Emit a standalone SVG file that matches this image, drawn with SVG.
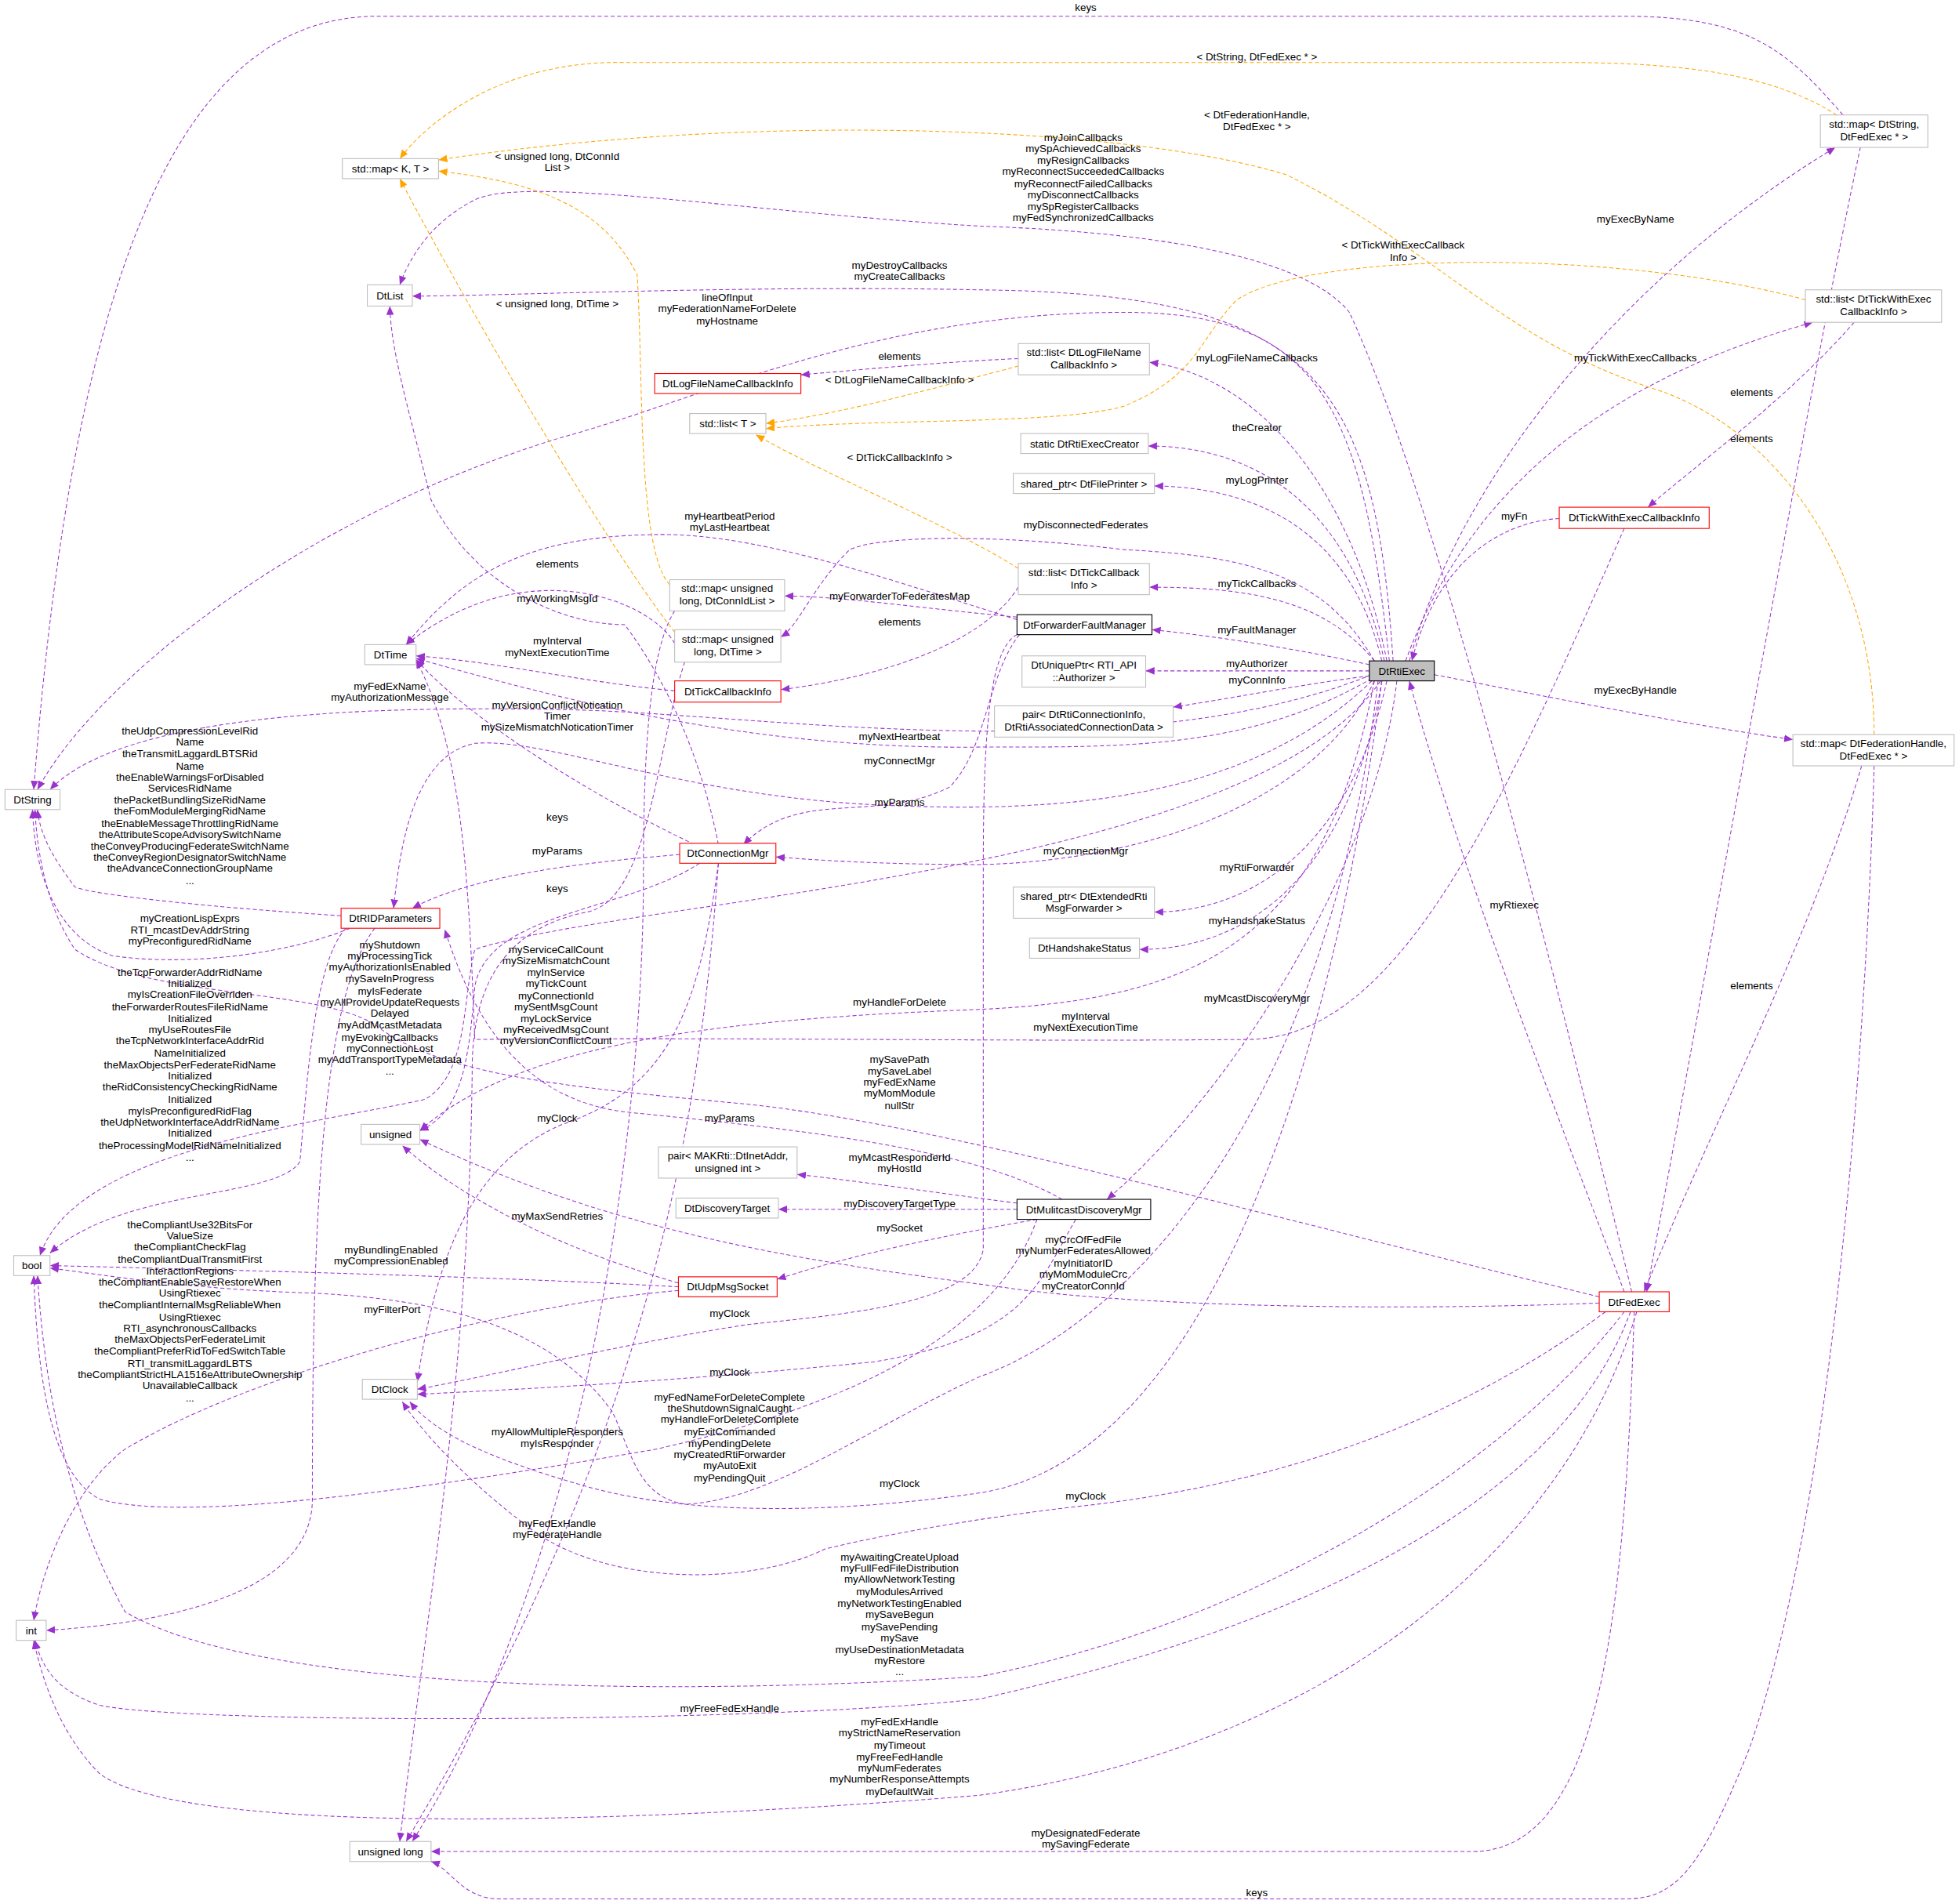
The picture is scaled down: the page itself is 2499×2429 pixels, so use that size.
<svg xmlns="http://www.w3.org/2000/svg" width="2499" height="2429" viewBox="0 0 2499 2429">
<defs>
<style>
text{font-family:"Liberation Sans",Arial,sans-serif;font-size:8.4px;fill:#000;text-anchor:middle}
.n rect{fill:#fff;stroke:#bfbfbf;stroke-width:0.7}
.r rect{stroke:#ff0000}
.k rect{stroke:#000}
.g rect{fill:#bfbfbf;stroke:#000}
.e{fill:none;stroke:#9a32cd;stroke-width:0.65;stroke-dasharray:3.2,2;marker-end:url(#ap)}
.o{fill:none;stroke:#ffa500;stroke-width:0.65;stroke-dasharray:3.2,2;marker-end:url(#ao)}
</style>
<marker id="ap" markerUnits="userSpaceOnUse" markerWidth="9" markerHeight="8" refX="7" refY="3" orient="auto"><path d="M0,0 L7,3 L0,6z" fill="#9a32cd"/></marker>
<marker id="ao" markerUnits="userSpaceOnUse" markerWidth="9" markerHeight="8" refX="7" refY="3" orient="auto"><path d="M0,0 L7,3 L0,6z" fill="#ffa500"/></marker>
</defs>
<rect width="2499" height="2429" fill="#fff"/>
<g transform="scale(1.5938)">
<g id="connectors">
<path class="e" d="M1128,529 C1170,380 1300,220 1469,118"/>
<path class="e" d="M1125,529 C1180,380 1300,300 1451,258"/>
<path class="e" d="M1248,415 C1200,418 1150,450 1130,529"/>
<path class="e" d="M1110,529 C1080,380 1000,300 920,290"/>
<path class="e" d="M1108,529 C1080,400 1000,357 919,357"/>
<path class="e" d="M1106,529 C1080,420 1000,390 924,389"/>
<path class="e" d="M1100,529 C1060,480 1000,470 920,470"/>
<path class="e" d="M1096,532 C1040,520 980,510 922,504"/>
<path class="e" d="M1096,537 L917,537"/>
<path class="e" d="M1096,541 C1040,548 980,560 939,566"/>
<path class="e" d="M1148,540 C1250,560 1350,580 1435,592"/>
<path class="e" d="M1110,545 C1080,680 1000,730 924,730"/>
<path class="e" d="M1106,545 C1080,700 1000,760 912,760"/>
<path class="e" d="M1100,545 C1050,650 900,690 784,692 C700,692 650,688 621,686"/>
<path class="e" d="M1118,545 C1100,700 980,880 886,960"/>
<path class="e" d="M1300,1034 C1250,900 1170,700 1128,545"/>
<path class="e" d="M1115,529 C1100,300 1050,235 784,232 C600,228 400,237 330,237"/>
<path class="e" d="M1306,1034 C1250,800 1150,400 1080,250 C1040,200 900,185 784,181 C600,170 420,140 380,160 C350,175 330,200 320,228"/>
<path class="e" d="M1112,529 C1090,330 1060,250 900,250 C700,250 560,320 450,350 C250,410 80,540 30,632"/>
<path class="e" d="M1475,92 C1430,40 1400,13 1300,13 L300,13 C150,15 60,200 27,632"/>
<path class="o" d="M1470,92 C1420,60 1350,50 1250,50 L500,50 C400,48 340,100 320,127"/>
<path class="o" d="M1500,588 C1500,450 1420,340 1320,310 C1200,270 1150,200 1030,140 C900,100 600,90 351,128"/>
<path class="o" d="M536,468 C510,440 515,300 510,220 C480,160 420,145 351,137"/>
<path class="o" d="M540,506 C480,430 360,220 320,143"/>
<path class="o" d="M815,293 C750,310 680,330 613,339"/>
<path class="o" d="M1445,240 C1300,200 1050,200 990,240 C960,270 960,300 900,325 C850,340 700,335 613,343"/>
<path class="o" d="M815,455 C760,420 660,380 605,348"/>
<path class="e" d="M815,287 C750,290 700,295 641,300"/>
<path class="e" d="M815,470 C790,510 720,540 625,552"/>
<path class="e" d="M1484,258 C1430,320 1360,370 1319,406"/>
<path class="e" d="M1489,118 C1450,300 1380,700 1318,1034"/>
<path class="e" d="M1490,613 C1450,750 1370,900 1316,1034"/>
<path class="e" d="M1500,613 C1495,800 1470,1200 1400,1400 C1360,1500 1340,1520 1300,1520 L400,1520 C370,1520 360,1495 345,1490"/>
<path class="e" d="M1308,1050 C1300,1300 1280,1480 1180,1482 L345,1482"/>
<path class="e" d="M575,691 C560,900 520,1150 325,1474"/>
<path class="e" d="M814,496 C700,460 600,425 520,428 C420,430 370,460 325,516"/>
<path class="e" d="M540,515 C520,480 420,440 325,516"/>
<path class="e" d="M540,553 C460,545 400,530 333,525"/>
<path class="e" d="M556,676 C480,640 380,580 333,528"/>
<path class="e" d="M1098,543 C1000,600 900,598 784,598 C600,600 450,560 333,527"/>
<path class="e" d="M1098,540 C900,620 600,570 450,568 C300,565 100,570 40,632"/>
<path class="e" d="M544,684 C470,690 380,700 330,727"/>
<path class="e" d="M1098,545 C1000,640 850,650 720,645 C550,640 440,590 380,595 C330,605 320,680 315,727"/>
<path class="e" d="M850,960 C780,920 650,905 500,890 C420,880 380,820 356,744"/>
<path class="e" d="M816,508 C790,540 790,600 760,630 C700,660 640,630 595,676"/>
<path class="e" d="M273,733 C150,725 70,715 60,710 C45,690 32,670 30,648"/>
<path class="e" d="M280,743 C240,760 160,775 90,765 C45,750 28,700 26,648"/>
<path class="e" d="M277,743 C250,770 245,880 240,930 C220,960 100,950 40,1003"/>
<path class="e" d="M300,743 C255,800 250,1000 250,1200 C250,1280 120,1300 37,1305"/>
<path class="e" d="M1105,545 C1000,700 500,720 380,760 C370,800 375,860 340,880 C250,900 60,920 32,1005"/>
<path class="e" d="M560,691 C500,730 390,730 380,790 C375,850 370,890 336,905"/>
<path class="e" d="M540,489 C520,520 515,600 515,700 C515,900 470,1250 330,1474"/>
<path class="e" d="M548,530 C525,600 520,720 470,730 C420,740 380,770 378,850 C376,1100 340,1300 320,1474"/>
<path class="e" d="M543,1027 C450,1000 370,960 322,917"/>
<path class="e" d="M575,691 C560,800 540,870 450,900 C380,930 350,1000 334,1106"/>
<path class="e" d="M814,508 C790,520 787,600 787,700 L787,1000 C780,1040 700,1050 600,1060 C500,1075 400,1100 334,1112"/>
<path class="e" d="M861,976 C830,1030 820,1070 700,1090 C550,1105 420,1112 334,1116"/>
<path class="e" d="M1285,1050 C1150,1150 1000,1190 870,1205 C780,1215 700,1230 660,1240 C600,1270 480,1270 420,1220 C380,1190 340,1150 322,1122"/>
<path class="e" d="M1106,545 C1060,900 950,1170 784,1195 C680,1210 560,1215 470,1190 C400,1170 350,1150 328,1122"/>
<path class="e" d="M1103,545 C1060,900 900,1060 784,1102 C700,1140 620,1200 550,1204 C510,1200 505,1160 490,1130 C440,1060 350,1040 250,1035 C150,1032 80,1020 40,1015"/>
<path class="e" d="M830,976 C800,1060 700,1120 525,1160 C350,1190 150,1220 80,1200 C40,1180 30,1100 27,1021"/>
<path class="e" d="M543,1030 C400,1022 200,1017 40,1013"/>
<path class="e" d="M830,976 C750,990 680,1005 622,1024"/>
<path class="e" d="M814,963 C750,955 700,947 638,940"/>
<path class="e" d="M814,968 L623,968"/>
<path class="e" d="M1280,1038 C1000,970 750,900 600,884 C450,870 350,860 300,820 C250,790 120,800 60,760 C40,730 30,690 28,648"/>
<path class="e" d="M1280,1043 C1100,1050 900,1045 800,1030 C650,1010 500,990 336,912"/>
<path class="e" d="M1100,545 C1060,760 950,800 784,808 C600,815 420,830 336,905"/>
<path class="e" d="M1300,423 C1200,650 1120,830 1000,832 C800,834 600,830 380,832 C375,700 370,600 333,528"/>
<path class="e" d="M1300,1050 C1200,1180 1000,1300 784,1342 C500,1360 200,1350 100,1290 C50,1200 35,1100 30,1021"/>
<path class="e" d="M1305,1050 C1250,1200 1050,1300 784,1360 C600,1380 150,1380 80,1365 C50,1355 35,1340 28,1313"/>
<path class="e" d="M1310,1050 C1250,1250 1050,1400 784,1437 C500,1460 150,1470 80,1420 C50,1390 35,1350 27,1313"/>
<path class="e" d="M543,1033 C400,1045 200,1100 100,1160 C60,1190 35,1250 27,1297"/>
<path class="e" d="M814,494 C720,485 680,478 628,477"/>
<path class="e" d="M1100,529 C1060,460 1000,445 900,440 C784,426 700,430 680,440 C650,470 640,500 625,510"/>
<path class="e" d="M575,676 C560,600 530,540 500,500 C450,500 380,470 345,400 C325,320 313,280 312,245"/>
</g>
<g id="labels">
<text x="869" y="9">keys</text>
<text x="1006" y="48">&lt; DtString, DtFedExec * &gt;</text>
<text x="1006" y="95">&lt; DtFederationHandle,</text><text x="1006" y="104">DtFedExec * &gt;</text>
<text x="867" y="113">myJoinCallbacks</text><text x="867" y="122">mySpAchievedCallbacks</text><text x="867" y="131">myResignCallbacks</text><text x="867" y="140">myReconnectSucceededCallbacks</text><text x="867" y="150">myReconnectFailedCallbacks</text><text x="867" y="159">myDisconnectCallbacks</text><text x="867" y="168">mySpRegisterCallbacks</text><text x="867" y="177">myFedSynchronizedCallbacks</text>
<text x="446" y="128">&lt; unsigned long, DtConnId</text><text x="446" y="137">List &gt;</text>
<text x="1309" y="178">myExecByName</text>
<text x="1123" y="199">&lt; DtTickWithExecCallback</text><text x="1123" y="209">Info &gt;</text>
<text x="720" y="215">myDestroyCallbacks</text><text x="720" y="224">myCreateCallbacks</text>
<text x="446" y="246">&lt; unsigned long, DtTime &gt;</text>
<text x="582" y="241">lineOfInput</text><text x="582" y="250">myFederationNameForDelete</text><text x="582" y="260">myHostname</text>
<text x="720" y="288">elements</text>
<text x="1006" y="289">myLogFileNameCallbacks</text>
<text x="1309" y="289">myTickWithExecCallbacks</text>
<text x="720" y="307">&lt; DtLogFileNameCallbackInfo &gt;</text>
<text x="1402" y="317">elements</text>
<text x="1006" y="345">theCreator</text>
<text x="1402" y="354">elements</text>
<text x="720" y="369">&lt; DtTickCallbackInfo &gt;</text>
<text x="1006" y="387">myLogPrinter</text>
<text x="1212" y="416">myFn</text>
<text x="584" y="416">myHeartbeatPeriod</text><text x="584" y="425">myLastHeartbeat</text>
<text x="869" y="423">myDisconnectedFederates</text>
<text x="446" y="454">elements</text>
<text x="1006" y="470">myTickCallbacks</text>
<text x="446" y="482">myWorkingMsgId</text>
<text x="720" y="480">myForwarderToFederatesMap</text>
<text x="720" y="501">elements</text>
<text x="1006" y="507">myFaultManager</text>
<text x="446" y="516">myInterval</text><text x="446" y="525">myNextExecutionTime</text>
<text x="1006" y="534">myAuthorizer</text>
<text x="1006" y="547">myConnInfo</text>
<text x="312" y="552">myFedExName</text><text x="312" y="561">myAuthorizationMessage</text>
<text x="1309" y="555">myExecByHandle</text>
<text x="446" y="567">myVersionConflictNotication</text><text x="446" y="576">Timer</text><text x="446" y="585">mySizeMismatchNoticationTimer</text>
<text x="720" y="592">myNextHeartbeat</text>
<text x="152" y="588">theUdpCompressionLevelRid</text><text x="152" y="597">Name</text><text x="152" y="606">theTransmitLaggardLBTSRid</text><text x="152" y="616">Name</text><text x="152" y="625">theEnableWarningsForDisabled</text><text x="152" y="634">ServicesRidName</text><text x="152" y="643">thePacketBundlingSizeRidName</text><text x="152" y="652">theFomModuleMergingRidName</text><text x="152" y="662">theEnableMessageThrottlingRidName</text><text x="152" y="671">theAttributeScopeAdvisorySwitchName</text><text x="152" y="680">theConveyProducingFederateSwitchName</text><text x="152" y="689">theConveyRegionDesignatorSwitchName</text><text x="152" y="698">theAdvanceConnectionGroupName</text><text x="152" y="708">...</text>
<text x="720" y="612">myConnectMgr</text>
<text x="720" y="645">myParams</text>
<text x="446" y="657">keys</text>
<text x="446" y="684">myParams</text>
<text x="869" y="684">myConnectionMgr</text>
<text x="1006" y="697">myRtiForwarder</text>
<text x="446" y="714">keys</text>
<text x="1212" y="727">myRtiexec</text>
<text x="152" y="738">myCreationLispExprs</text><text x="152" y="747">RTI_mcastDevAddrString</text><text x="152" y="756">myPreconfiguredRidName</text>
<text x="1006" y="740">myHandshakeStatus</text>
<text x="312" y="759">myShutdown</text><text x="312" y="768">myProcessingTick</text><text x="312" y="777">myAuthorizationIsEnabled</text><text x="312" y="786">mySaveInProgress</text><text x="312" y="796">myIsFederate</text><text x="312" y="805">myAllProvideUpdateRequests</text><text x="312" y="814">Delayed</text><text x="312" y="823">myAddMcastMetadata</text><text x="312" y="833">myEvokingCallbacks</text><text x="312" y="842">myConnectionLost</text><text x="312" y="851">myAddTransportTypeMetadata</text><text x="312" y="860">...</text>
<text x="445" y="763">myServiceCallCount</text><text x="445" y="772">mySizeMismatchCount</text><text x="445" y="781">myInService</text><text x="445" y="790">myTickCount</text><text x="445" y="800">myConnectionId</text><text x="445" y="809">mySentMsgCount</text><text x="445" y="818">myLockService</text><text x="445" y="827">myReceivedMsgCount</text><text x="445" y="836">myVersionConflictCount</text>
<text x="152" y="781">theTcpForwarderAddrRidName</text><text x="152" y="790">Initialized</text><text x="152" y="799">myIsCreationFileOverriden</text><text x="152" y="809">theForwarderRoutesFileRidName</text><text x="152" y="818">Initialized</text><text x="152" y="827">myUseRoutesFile</text><text x="152" y="836">theTcpNetworkInterfaceAddrRid</text><text x="152" y="846">NameInitialized</text><text x="152" y="855">theMaxObjectsPerFederateRidName</text><text x="152" y="864">Initialized</text><text x="152" y="873">theRidConsistencyCheckingRidName</text><text x="152" y="883">Initialized</text><text x="152" y="892">myIsPreconfiguredRidFlag</text><text x="152" y="901">theUdpNetworkInterfaceAddrRidName</text><text x="152" y="910">Initialized</text><text x="152" y="920">theProcessingModelRidNameInitialized</text><text x="152" y="929">...</text>
<text x="720" y="805">myHandleForDelete</text>
<text x="869" y="816">myInterval</text><text x="869" y="825">myNextExecutionTime</text>
<text x="1006" y="802">myMcastDiscoveryMgr</text>
<text x="720" y="851">mySavePath</text><text x="720" y="860">mySaveLabel</text><text x="720" y="869">myFedExName</text><text x="720" y="878">myMomModule</text><text x="720" y="888">nullStr</text>
<text x="446" y="898">myClock</text>
<text x="584" y="898">myParams</text>
<text x="720" y="929">myMcastResponderId</text><text x="720" y="938">myHostId</text>
<text x="720" y="966">myDiscoveryTargetType</text>
<text x="446" y="976">myMaxSendRetries</text>
<text x="720" y="986">mySocket</text>
<text x="152" y="983">theCompliantUse32BitsFor</text><text x="152" y="992">ValueSize</text><text x="152" y="1001">theCompliantCheckFlag</text><text x="152" y="1011">theCompliantDualTransmitFirst</text><text x="152" y="1020">InteractionRegions</text><text x="152" y="1029">theCompliantEnableSaveRestoreWhen</text><text x="152" y="1038">UsingRtiexec</text><text x="152" y="1047">theCompliantInternalMsgReliableWhen</text><text x="152" y="1057">UsingRtiexec</text><text x="152" y="1066">RTI_asynchronousCallbacks</text><text x="152" y="1075">theMaxObjectsPerFederateLimit</text><text x="152" y="1084">theCompliantPreferRidToFedSwitchTable</text><text x="152" y="1094">RTI_transmitLaggardLBTS</text><text x="152" y="1103">theCompliantStrictHLA1516eAttributeOwnership</text><text x="152" y="1112">UnavailableCallback</text><text x="152" y="1122">...</text>
<text x="313" y="1003">myBundlingEnabled</text><text x="313" y="1012">myCompressionEnabled</text>
<text x="867" y="995">myCrcOfFedFile</text><text x="867" y="1004">myNumberFederatesAllowed</text><text x="867" y="1014">myInitiatorID</text><text x="867" y="1023">myMomModuleCrc</text><text x="867" y="1032">myCreatorConnId</text>
<text x="314" y="1051">myFilterPort</text>
<text x="584" y="1054">myClock</text>
<text x="584" y="1101">myClock</text>
<text x="584" y="1121">myFedNameForDeleteComplete</text><text x="584" y="1130">theShutdownSignalCaught</text><text x="584" y="1139">myHandleForDeleteComplete</text><text x="584" y="1149">myExitCommanded</text><text x="584" y="1158">myPendingDelete</text><text x="584" y="1167">myCreatedRtiForwarder</text><text x="584" y="1176">myAutoExit</text><text x="584" y="1186">myPendingQuit</text>
<text x="446" y="1149">myAllowMultipleResponders</text><text x="446" y="1158">myIsResponder</text>
<text x="720" y="1190">myClock</text>
<text x="869" y="1200">myClock</text>
<text x="446" y="1222">myFedExHandle</text><text x="446" y="1231">myFederateHandle</text>
<text x="720" y="1249">myAwaitingCreateUpload</text><text x="720" y="1258">myFullFedFileDistribution</text><text x="720" y="1267">myAllowNetworkTesting</text><text x="720" y="1277">myModulesArrived</text><text x="720" y="1286">myNetworkTestingEnabled</text><text x="720" y="1295">mySaveBegun</text><text x="720" y="1305">mySavePending</text><text x="720" y="1314">mySave</text><text x="720" y="1323">myUseDestinationMetadata</text><text x="720" y="1332">myRestore</text><text x="720" y="1341">...</text>
<text x="584" y="1370">myFreeFedExHandle</text>
<text x="720" y="1381">myFedExHandle</text><text x="720" y="1390">myStrictNameReservation</text><text x="720" y="1400">myTimeout</text><text x="720" y="1409">myFreeFedHandle</text><text x="720" y="1418">myNumFederates</text><text x="720" y="1427">myNumberResponseAttempts</text><text x="720" y="1437">myDefaultWait</text>
<text x="1402" y="792">elements</text>
<text x="869" y="1470">myDesignatedFederate</text><text x="869" y="1479">mySavingFederate</text>
<text x="1006" y="1518">keys</text>
</g>
<g id="mapKT" class="n"><rect x="274" y="127" width="77" height="16"/><text x="312.5" y="138">std::map&lt; K, T &gt;</text></g>
<g id="DtList" class="n"><rect x="294" y="228" width="36" height="17"/><text x="312" y="239.5">DtList</text></g>
<g id="DtLogFileNameCallbackInfo" class="n r"><rect x="524" y="299" width="117" height="16"/><text x="582.5" y="310">DtLogFileNameCallbackInfo</text></g>
<g id="listT" class="n"><rect x="552" y="331" width="61" height="16"/><text x="582.5" y="342">std::list&lt; T &gt;</text></g>
<g id="mapULConn" class="n"><rect x="536" y="464" width="92" height="25"/><text x="582" y="474">std::map&lt; unsigned</text><text x="582" y="484">long, DtConnIdList &gt;</text></g>
<g id="mapULTime" class="n"><rect x="540" y="504" width="85" height="26"/><text x="582.5" y="514.5">std::map&lt; unsigned</text><text x="582.5" y="524.5">long, DtTime &gt;</text></g>
<g id="DtTime" class="n"><rect x="292" y="516" width="41" height="16"/><text x="312.5" y="527">DtTime</text></g>
<g id="DtTickCallbackInfo" class="n r"><rect x="540" y="545" width="85" height="17"/><text x="582.5" y="556.5">DtTickCallbackInfo</text></g>
<g id="DtString" class="n"><rect x="4" y="632" width="44" height="16"/><text x="26" y="643">DtString</text></g>
<g id="DtConnectionMgr" class="n r"><rect x="544" y="675" width="77" height="16"/><text x="582.5" y="686">DtConnectionMgr</text></g>
<g id="DtRIDParameters" class="n r"><rect x="273" y="727" width="79" height="16"/><text x="312.5" y="738">DtRIDParameters</text></g>
<g id="mapStrFed" class="n"><rect x="1457" y="92" width="86" height="26"/><text x="1500" y="102.5">std::map&lt; DtString,</text><text x="1500" y="112.5">DtFedExec * &gt;</text></g>
<g id="listTWE" class="n"><rect x="1445" y="232" width="109" height="26"/><text x="1499.5" y="242.5">std::list&lt; DtTickWithExec</text><text x="1499.5" y="252.5">CallbackInfo &gt;</text></g>
<g id="listLog" class="n"><rect x="815" y="275" width="105" height="25"/><text x="867.5" y="285">std::list&lt; DtLogFileName</text><text x="867.5" y="295">CallbackInfo &gt;</text></g>
<g id="creator" class="n"><rect x="817" y="347" width="102" height="16"/><text x="868" y="358">static DtRtiExecCreator</text></g>
<g id="filePrinter" class="n"><rect x="811" y="379" width="113" height="16"/><text x="867.5" y="390">shared_ptr&lt; DtFilePrinter &gt;</text></g>
<g id="DtTickWithExecCallbackInfo" class="n r"><rect x="1248" y="406" width="120" height="17"/><text x="1308" y="417.5">DtTickWithExecCallbackInfo</text></g>
<g id="listTick" class="n"><rect x="815" y="451" width="105" height="25"/><text x="867.5" y="461">std::list&lt; DtTickCallback</text><text x="867.5" y="471">Info &gt;</text></g>
<g id="DtForwarderFaultManager" class="n k"><rect x="814" y="492" width="108" height="16"/><text x="868" y="503">DtForwarderFaultManager</text></g>
<g id="uniqAuth" class="n"><rect x="818" y="525" width="99" height="25"/><text x="867.5" y="535">DtUniquePtr&lt; RTI_API</text><text x="867.5" y="545">::Authorizer &gt;</text></g>
<g id="DtRtiExec" class="n g"><rect x="1096" y="529" width="52" height="16"/><text x="1122" y="540">DtRtiExec</text></g>
<g id="pairConn" class="n"><rect x="796" y="565" width="143" height="25"/><text x="867.5" y="575">pair&lt; DtRtiConnectionInfo,</text><text x="867.5" y="585"> DtRtiAssociatedConnectionData &gt;</text></g>
<g id="mapFH" class="n"><rect x="1435" y="588" width="129" height="25"/><text x="1499.5" y="598">std::map&lt; DtFederationHandle,</text><text x="1499.5" y="608">DtFedExec * &gt;</text></g>
<g id="sharedFwd" class="n"><rect x="811" y="710" width="113" height="25"/><text x="867.5" y="720">shared_ptr&lt; DtExtendedRti</text><text x="867.5" y="730">MsgForwarder &gt;</text></g>
<g id="DtHandshakeStatus" class="n"><rect x="824" y="751" width="88" height="16"/><text x="868" y="762">DtHandshakeStatus</text></g>
<g id="unsigned" class="n"><rect x="289" y="900" width="47" height="16"/><text x="312.5" y="911">unsigned</text></g>
<g id="pairMak" class="n"><rect x="527" y="918" width="111" height="25"/><text x="582.5" y="928">pair&lt; MAKRti::DtInetAddr,</text><text x="582.5" y="938">unsigned int &gt;</text></g>
<g id="DtDiscoveryTarget" class="n"><rect x="541" y="959" width="82" height="16"/><text x="582" y="970">DtDiscoveryTarget</text></g>
<g id="bool" class="n"><rect x="11" y="1005" width="29" height="16"/><text x="25.5" y="1016">bool</text></g>
<g id="DtUdpMsgSocket" class="n r"><rect x="543" y="1022" width="79" height="16"/><text x="582.5" y="1033">DtUdpMsgSocket</text></g>
<g id="DtMulitcastDiscoveryMgr" class="n k"><rect x="814" y="960" width="107" height="16"/><text x="867.5" y="971">DtMulitcastDiscoveryMgr</text></g>
<g id="DtClock" class="n"><rect x="290" y="1104" width="44" height="16"/><text x="312" y="1115">DtClock</text></g>
<g id="DtFedExec" class="n r"><rect x="1280" y="1034" width="56" height="16"/><text x="1308" y="1045">DtFedExec</text></g>
<g id="int" class="n"><rect x="13" y="1297" width="24" height="16"/><text x="25" y="1308">int</text></g>
<g id="ulong" class="n"><rect x="280" y="1474" width="65" height="16"/><text x="312.5" y="1485">unsigned long</text></g>
</g>
</svg>
